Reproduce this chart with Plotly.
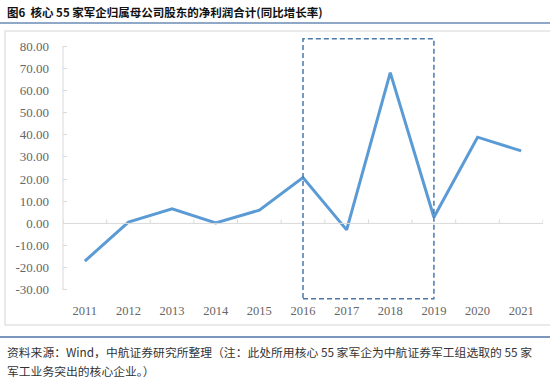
import plotly.graph_objects as go

years = ["2011", "2012", "2013", "2014", "2015", "2016", "2017", "2018", "2019", "2020", "2021"]
growth = [-17.0, 0.6, 6.6, 0.2, 6.0, 20.7, -2.9, 68.0, 2.8, 38.9, 32.7]
ytick_vals = [-30, -20, -10, 0, 10, 20, 30, 40, 50, 60, 70, 80]
ytick_text = [f"{v:.2f}" for v in ytick_vals]
box_x0, box_x1 = "2016", "2019"
box_y0, box_y1 = -34, 83.3

title_text = "图6  核心 55 家军企归属母公司股东的净利润合计(同比增长率)"
source_line1 = "资料来源：Wind，中航证券研究所整理（注：此处所用核心 55 家军企为中航证券军工组选取的 55 家"
source_line2 = "军工业务突出的核心企业。）"

W, H = 550, 378
ML, MR, MT, MB = 63, 7, 35, 77
YR = [-35, 85]
pw, ph = W - ML - MR, H - MT - MB
unit_px = ph / (YR[1] - YR[0])


def px2x(px):
    return (px - ML) / pw


def py2y(py):
    return (H - MB - py) / ph


fig = go.Figure()
fig.add_trace(go.Scatter(x=years, y=growth, mode="lines",
                         line=dict(color="#5b9bd5", width=3),
                         showlegend=False, hoverinfo="x+y"))

tick_font = dict(family="Liberation Serif, Times New Roman, serif", size=13, color="#666666")
cjk = "Noto Sans CJK SC, sans-serif"

shapes = [
    dict(type="line", xref="paper", yref="y", x0=0, x1=0, y0=ytick_vals[0], y1=ytick_vals[-1],
         line=dict(color="#d9d9d9", width=1)),
    dict(type="line", xref="paper", yref="y", x0=0, x1=1, y0=0, y1=0,
         line=dict(color="#d9d9d9", width=1)),
]
for i in range(len(years) + 1):
    shapes.append(dict(type="line", xref="x", yref="y", x0=i - 0.5, x1=i - 0.5,
                       y0=0, y1=4 / unit_px, line=dict(color="#d9d9d9", width=1)))
shapes += [
    dict(type="rect", xref="x", yref="y", x0=years.index(box_x0), x1=years.index(box_x1),
         y0=box_y0, y1=box_y1, line=dict(color="#4a78ad", width=1.5, dash="5px,3px")),
    dict(type="rect", xref="paper", yref="paper", x0=px2x(5), x1=px2x(551),
         y0=py2y(325), y1=py2y(31), line=dict(color="#e3e3e3", width=1.5), layer="below"),
    dict(type="line", xref="paper", yref="paper", x0=px2x(0), x1=px2x(550),
         y0=py2y(23), y1=py2y(23), line=dict(color="#8fa8c8", width=2)),
    dict(type="line", xref="paper", yref="paper", x0=px2x(0), x1=px2x(550),
         y0=py2y(337), y1=py2y(337), line=dict(color="#4f74a8", width=1.5)),
]

fig.update_layout(
    width=W, height=H,
    margin=dict(l=ML, r=MR, t=MT, b=MB),
    paper_bgcolor="white", plot_bgcolor="white",
    xaxis=dict(type="category", range=[-0.5, len(years) - 0.5], showline=False,
               showgrid=False, zeroline=False, ticks="", automargin=False,
               tickfont=dict(family=tick_font["family"], size=12.5, color="#666666")),
    yaxis=dict(range=YR, tickvals=ytick_vals, ticktext=ytick_text, tickfont=tick_font,
               showgrid=False, zeroline=False, showline=False, ticks="inside",
               ticklen=4, tickcolor="#d9d9d9", automargin=False, ticklabelstandoff=13),
    shapes=shapes,
    annotations=[
        dict(text="<b>" + title_text + "</b>", xref="paper", yref="paper",
             x=px2x(5), y=py2y(12), xanchor="left", yanchor="middle", showarrow=False,
             font=dict(family=cjk, size=11.5, color="#111111")),
        dict(text=source_line1, xref="paper", yref="paper",
             x=px2x(5), y=py2y(351), xanchor="left", yanchor="middle", showarrow=False,
             font=dict(family=cjk, size=11.8, color="#333333")),
        dict(text=source_line2, xref="paper", yref="paper",
             x=px2x(5), y=py2y(370), xanchor="left", yanchor="middle", showarrow=False,
             font=dict(family=cjk, size=11.8, color="#333333")),
    ],
)

fig.write_html("out.html", config={"displayModeBar": False},
               post_script="document.body.style.margin='0';")
